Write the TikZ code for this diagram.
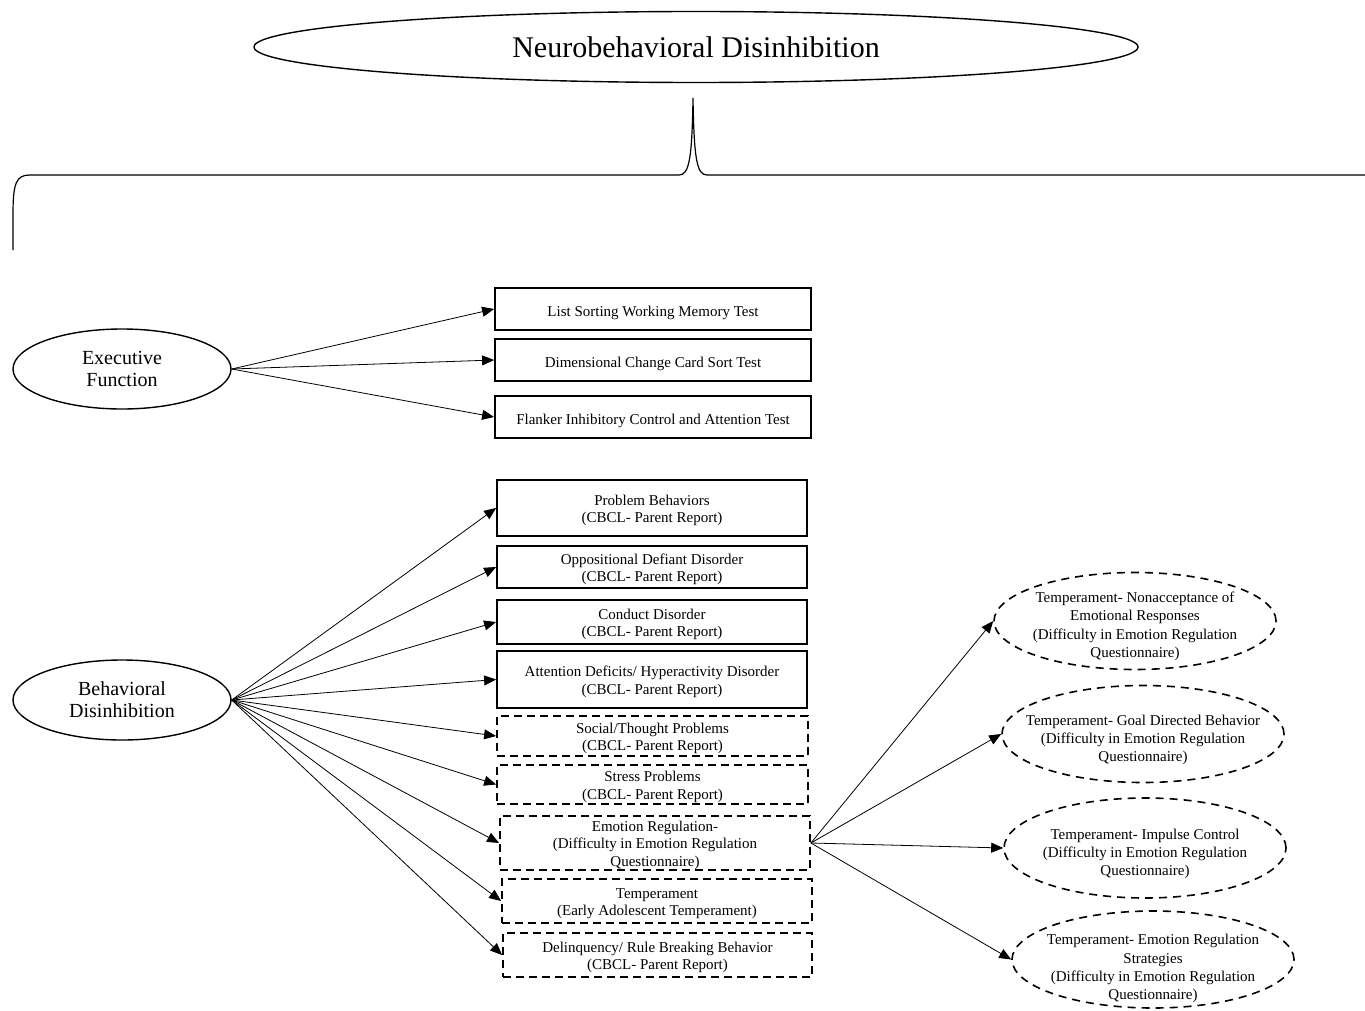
\documentclass[tikz,border=0pt]{standalone}
\usepackage{fontspec}
\setmainfont{Liberation Serif}
\usetikzlibrary{shapes.geometric,arrows.meta}
\newcommand{\tstrut}[1]{\rule{0pt}{#1pt}}
\tikzset{
  boxtext/.style={font=\fontsize{15}{17.5}\selectfont, align=center, inner sep=0pt},
  solidbox/.style={boxtext, draw, line width=1.8pt, rectangle, minimum width=310pt},
  dashbox/.style={boxtext, draw, line width=1.8pt, rectangle, minimum width=310pt, dash pattern=on 8pt off 5pt},
  latent/.style={draw, ellipse, line width=1.4pt, inner sep=0pt, minimum width=218pt, minimum height=80pt, align=center, font=\fontsize{20}{22}\selectfont},
  dashell/.style={draw, ellipse, align=center, font=\fontsize{15}{18.3}\selectfont, inner xsep=-30pt, inner ysep=-20pt, line width=1.6pt, minimum width=282pt, minimum height=97pt, dash pattern=on 8pt off 6pt},
  arr/.style={-{Triangle[length=12pt,width=10pt]}, line width=0.8pt},
}
\begin{document}
\begin{tikzpicture}[x=1pt,y=-1pt]
\useasboundingbox (0,0) rectangle (1365,1011);
% title
\node[draw, ellipse, line width=1.4pt, minimum width=884pt, minimum height=71pt, inner sep=0pt, font=\fontsize{30}{34}\selectfont] (nd) at (696,47) {Neurobehavioral Disinhibition};
% brace
\draw[line width=1.2pt] (13,250) -- (13,215) .. controls (13,183) and (16,175) .. (30,175) -- (679,175) .. controls (689,175) and (692,160) .. (693,98) .. controls (694,160) and (697,175) .. (707,175) -- (1370,175);
% latent nodes
\node[latent] (ef) at (122,369) {Executive\\Function};
\node[latent] (bd) at (122,700) {Behavioral\\Disinhibition};
% executive function indicators
\node[solidbox, minimum width=316pt, minimum height=42pt] (l1) at (653,309) {\tstrut{18.5}List Sorting Working Memory Test};
\node[solidbox, minimum width=316pt, minimum height=42pt] (l2) at (653,360) {\tstrut{18.5}Dimensional Change Card Sort Test};
\node[solidbox, minimum width=316pt, minimum height=42pt] (l3) at (653,417) {\tstrut{18.5}Flanker Inhibitory Control and Attention Test};
% behavioral indicators
\node[solidbox, minimum height=56pt] (b1) at (652,508) {\tstrut{15.5}Problem Behaviors\\(CBCL- Parent Report)};
\node[solidbox, minimum height=42pt] (b2) at (652,567) {\tstrut{15.5}Oppositional Defiant Disorder\\(CBCL- Parent Report)};
\node[solidbox, minimum height=44pt] (b3) at (652,622) {\tstrut{15.5}Conduct Disorder\\(CBCL- Parent Report)};
\node[solidbox, minimum height=57pt] (b4) at (652,679.5) {\tstrut{15.5}Attention Deficits/ Hyperactivity Disorder\\(CBCL- Parent Report)};
\node[dashbox, minimum height=40pt, minimum width=311pt] (b5) at (652.5,736) {\tstrut{15.5}Social/Thought Problems\\(CBCL- Parent Report)};
\node[dashbox, minimum height=39pt, minimum width=311pt] (b6) at (652.5,784.5) {\tstrut{15.5}Stress Problems\\(CBCL- Parent Report)};
\node[dashbox, minimum height=54pt] (b7) at (655,843) {\tstrut{15}Emotion Regulation-\\(Difficulty in Emotion Regulation\\Questionnaire)};
\node[dashbox, minimum height=44pt] (b8) at (657,901) {\tstrut{15.5}Temperament\\(Early Adolescent Temperament)};
\node[dashbox, minimum height=44pt, minimum width=309pt] (b9) at (657.5,955) {\tstrut{15.5}Delinquency/ Rule Breaking Behavior\\(CBCL- Parent Report)};
% temperament ellipses
\node[dashell] (e1) at (1135,621) {\tstrut{21}Temperament- Nonacceptance of\\Emotional Responses\\(Difficulty in Emotion Regulation\\Questionnaire)};
\node[dashell] (e2) at (1143,734) {\tstrut{22.5}Temperament- Goal Directed Behavior\\(Difficulty in Emotion Regulation\\Questionnaire)};
\node[dashell, minimum height=100pt] (e3) at (1145,848) {\tstrut{22.5}Temperament- Impulse Control\\(Difficulty in Emotion Regulation\\Questionnaire)};
\node[dashell] (e4) at (1153,959.5) {\tstrut{29}Temperament- Emotion Regulation\\Strategies\\(Difficulty in Emotion Regulation\\Questionnaire)};
% arrows
\foreach \t in {l1,l2,l3} \draw[arr] (ef.east) -- (\t.west);
\foreach \t in {b1,b2,b3,b4,b5,b6,b7,b8,b9} \draw[arr] (bd.east) -- (\t.west);
\foreach \t in {e1,e2,e3,e4} \draw[arr] (b7.east) -- (\t.west);
\end{tikzpicture}
\end{document}
